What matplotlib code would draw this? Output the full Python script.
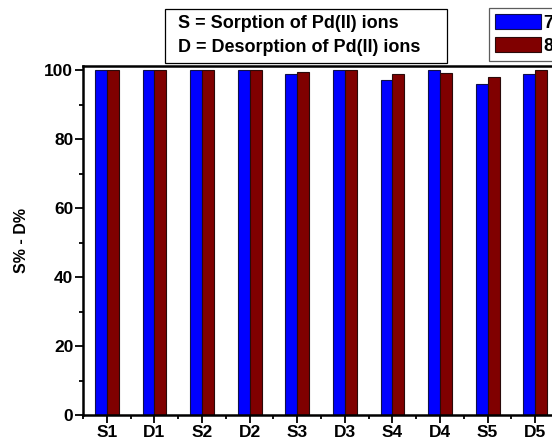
import matplotlib
matplotlib.use("Agg")
import matplotlib.pyplot as plt
from matplotlib.ticker import MultipleLocator
from matplotlib.patches import Rectangle
import numpy as np

plt.rcParams['font.family'] = ['Liberation Sans', 'DejaVu Sans']
plt.rcParams['font.weight'] = 'bold'

categories = ["S1", "D1", "S2", "D2", "S3", "D3", "S4", "D4", "S5", "D5"]
series_a = [100.0, 100.0, 100.0, 100.0, 99.0, 100.0, 97.0, 99.9, 96.1, 99.0]
series_b = [100.0, 100.0, 100.0, 100.0, 99.6, 100.0, 99.0, 99.3, 98.0, 100.0]
legend_labels = ["7", "8"]
note_lines = ["S = Sorption of Pd(II) ions", "D = Desorption of Pd(II) ions"]
y_label = "S% - D%"

W, H = 552, 441
fig = plt.figure(figsize=(W / 100, H / 100), dpi=100)
ax = fig.add_axes([83 / W, 26 / H, (559 - 83) / W, (415 - 66) / H])

x = np.arange(1, len(categories) + 1)
bw = 0.25
b1 = ax.bar(x - bw / 2, series_a, bw, color="#0000FF", edgecolor="#10104a",
            linewidth=0.8, label=legend_labels[0])
b2 = ax.bar(x + bw / 2, series_b, bw, color="#800000", edgecolor="#2a0a0a",
            linewidth=0.8, label=legend_labels[1])

ax.set_xlim(0.5, 10.5)
ax.set_ylim(0, 101.2)
ax.set_xticks(x)
ax.set_xticklabels(categories, fontsize=12.5, fontweight='bold')
ax.xaxis.set_minor_locator(MultipleLocator(0.5))
ax.yaxis.set_major_locator(MultipleLocator(20))
ax.yaxis.set_minor_locator(MultipleLocator(10))
for lab in ax.get_yticklabels():
    lab.set_fontweight('bold')
ax.tick_params(axis='both', which='major', direction='out', length=5.5,
               width=1.3, labelsize=12.5, pad=1.5)
ax.tick_params(axis='both', which='minor', direction='out', length=3,
               width=1.3)
for s in ax.spines.values():
    s.set_linewidth(1.8)

ax.set_ylabel(y_label, fontsize=11.5, fontweight='bold', labelpad=11)

# explanatory note box above the plot
fig.patches.append(Rectangle((165 / W, 1 - 63 / H), (447 - 165) / W, (63 - 9) / H,
                             transform=fig.transFigure, facecolor='white',
                             edgecolor='black', linewidth=0.9, zorder=5))
fig.text(178 / W, 1 - 24 / H, note_lines[0], fontsize=13, fontweight='bold',
         va='center', ha='left', zorder=6)
fig.text(178 / W, 1 - 47 / H, note_lines[1], fontsize=13, fontweight='bold',
         va='center', ha='left', zorder=6)

leg = fig.legend(handles=[b1, b2], labels=legend_labels, loc='upper left',
                 bbox_to_anchor=(489 / W, 1 - 8 / H), frameon=True, fancybox=False,
                 fontsize=13, handlelength=2.55, handleheight=0.85,
                 handletextpad=0.12, borderpad=0.35, labelspacing=0.3,
                 borderaxespad=0)
leg.get_frame().set_edgecolor('#333333')
leg.get_frame().set_linewidth(0.9)
for t in leg.get_texts():
    t.set_fontweight('bold')

fig.savefig("out.png", dpi=100)
